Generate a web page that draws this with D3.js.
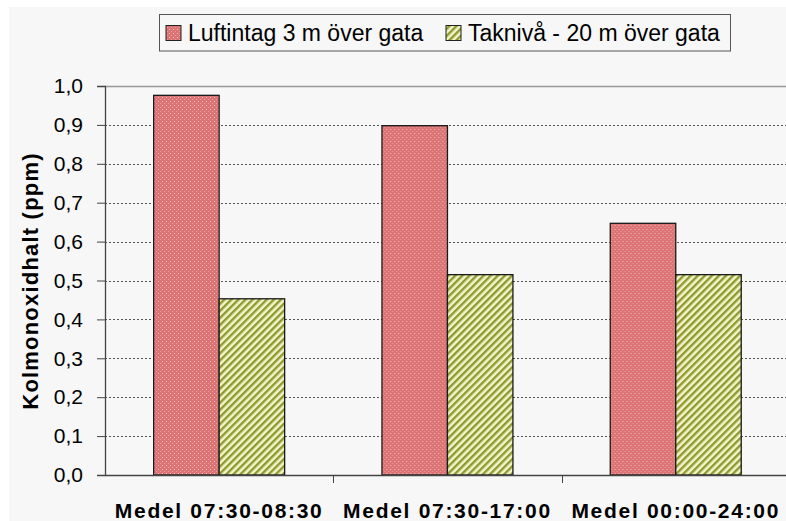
<!DOCTYPE html>
<html>
<head>
<meta charset="utf-8">
<script src="https://cdnjs.cloudflare.com/ajax/libs/d3/7.8.5/d3.min.js"></script>
<style>
  body { margin: 0; background: #ffffff; }
  svg { display: block; font-family: "Liberation Sans", Arial, sans-serif; }
</style>
</head>
<body>
<div id="chart"></div>
<script>
// data
var categories = ["Medel 07:30-08:30", "Medel 07:30-17:00", "Medel 00:00-24:00"];
var seriesNames = ["Luftintag 3 m över gata", "Takniv\u00e5 - 20 m över gata"];
var luftintag = [0.976, 0.898, 0.647];
var takniva = [0.453, 0.515, 0.515];
var yTicks = [0, 0.1, 0.2, 0.3, 0.4, 0.5, 0.6, 0.7, 0.8, 0.9, 1.0];

var width = 786, height = 521;
var plotLeft = 105, plotTop = 86, plotBottom = 475;
var bandW = 228.3;

var svg = d3.select("#chart").append("svg")
  .attr("width", width)
  .attr("height", height);

var defs = svg.append("defs");

// dotted red fill
var dots = defs.append("pattern")
  .attr("id", "dots")
  .attr("patternUnits", "userSpaceOnUse")
  .attr("width", 4).attr("height", 4);
dots.append("rect").attr("width", 4).attr("height", 4).attr("fill", "#dc7476");
dots.append("rect").attr("x", 1).attr("y", 1).attr("width", 1).attr("height", 1).attr("fill", "#f3c0c0");
dots.append("rect").attr("x", 3).attr("y", 3).attr("width", 1).attr("height", 1).attr("fill", "#e89c9c");

// diagonal hatch fill
var hatch = defs.append("pattern")
  .attr("id", "hatch")
  .attr("patternUnits", "userSpaceOnUse")
  .attr("width", 5).attr("height", 5)
  .attr("patternTransform", "rotate(45)");
hatch.append("rect").attr("width", 5).attr("height", 5).attr("fill", "#f4f4c8");
hatch.append("rect").attr("width", 2.4).attr("height", 5).attr("fill", "#8c9a32");

// background
svg.append("rect")
  .attr("x", 9).attr("y", 7)
  .attr("width", width - 9).attr("height", height - 7)
  .attr("fill", "#f7f7f7");

var x0 = d3.scaleBand()
  .domain(categories)
  .range([plotLeft, plotLeft + bandW * categories.length])
  .paddingInner(0).paddingOuter(0);

// two bars of ~65.5px centred in each 228px band
var x1 = d3.scaleBand()
  .domain([0, 1])
  .range([0, bandW])
  .paddingInner(0)
  .paddingOuter(0.743);

var y = d3.scaleLinear()
  .domain([0, 1])
  .range([plotBottom, plotTop]);

// grid lines
svg.append("g")
  .selectAll("line")
  .data(yTicks.filter(function(d) { return d > 0 && d < 1; }))
  .enter().append("line")
  .attr("x1", plotLeft).attr("x2", width)
  .attr("y1", function(d) { return Math.round(y(d)) + 0.5; })
  .attr("y2", function(d) { return Math.round(y(d)) + 0.5; })
  .attr("stroke", "#555")
  .attr("stroke-width", 1)
  .attr("stroke-dasharray", "2,2");

// top border of plot area
svg.append("line")
  .attr("x1", plotLeft).attr("x2", width)
  .attr("y1", Math.round(y(1)) + 0.5).attr("y2", Math.round(y(1)) + 0.5)
  .attr("stroke", "#999").attr("stroke-width", 1.5);

// bars
var groups = svg.append("g").selectAll("g")
  .data(categories)
  .enter().append("g")
  .attr("transform", function(d) { return "translate(" + x0(d) + ",0)"; });

groups.selectAll("rect")
  .data(function(d, i) {
    return [{s: 0, v: luftintag[i]}, {s: 1, v: takniva[i]}];
  })
  .enter().append("rect")
  .attr("x", function(d) { return x1(d.s); })
  .attr("width", x1.bandwidth())
  .attr("y", function(d) { return y(d.v); })
  .attr("height", function(d) { return y(0) - y(d.v); })
  .attr("fill", function(d) { return d.s === 0 ? "url(#dots)" : "url(#hatch)"; })
  .attr("stroke", "#1a1a1a")
  .attr("stroke-width", 1.3);

// y axis
var yAxis = d3.axisLeft(y)
  .tickValues(yTicks)
  .tickSize(8)
  .tickPadding(14)
  .tickFormat(function(d) { return d3.format(".1f")(d).replace(".", ","); });

var yg = svg.append("g")
  .attr("transform", "translate(" + plotLeft + ",0)")
  .call(yAxis);
yg.select(".domain").attr("stroke", "#444").attr("stroke-width", 1.3);
yg.selectAll(".tick line").attr("stroke", "#444");
yg.selectAll(".tick text")
  .attr("font-size", "21px")
  .attr("font-family", "Liberation Sans, Arial, sans-serif")
  .attr("fill", "#000");

// x axis
var xAxis = d3.axisBottom(x0)
  .tickSize(0)
  .tickPadding(28);

var xg = svg.append("g")
  .attr("transform", "translate(0," + plotBottom + ")")
  .call(xAxis);
xg.select(".domain").attr("stroke", "#444").attr("stroke-width", 1.3);
xg.selectAll(".tick text")
  .attr("font-size", "21px")
  .attr("font-weight", "bold")
  .attr("letter-spacing", "1.7px")
  .attr("font-family", "Liberation Sans, Arial, sans-serif")
  .attr("fill", "#000");

// category separator ticks
svg.append("g").selectAll("line")
  .data(categories.slice(1))
  .enter().append("line")
  .attr("x1", function(d) { return Math.round(x0(d)) + 0.5; })
  .attr("x2", function(d) { return Math.round(x0(d)) + 0.5; })
  .attr("y1", plotBottom).attr("y2", plotBottom + 8)
  .attr("stroke", "#444");

// y axis title
svg.append("text")
  .attr("transform", "translate(38,281) rotate(-90)")
  .attr("text-anchor", "middle")
  .attr("font-size", "22px")
  .attr("font-weight", "bold")
  .attr("letter-spacing", "1.2px")
  .text("Kolmonoxidhalt (ppm)");

// legend
var legend = svg.append("g");
legend.append("rect")
  .attr("x", 159.5).attr("y", 14.5)
  .attr("width", 571).attr("height", 36.5)
  .attr("fill", "#f7f7f7")
  .attr("stroke", "#555");

var legItems = [
  {name: seriesNames[0], fill: "url(#dots)", x: 166},
  {name: seriesNames[1], fill: "url(#hatch)", x: 446}
];
legItems.forEach(function(it) {
  legend.append("rect")
    .attr("x", it.x).attr("y", 25.5)
    .attr("width", 15).attr("height", 15)
    .attr("fill", it.fill)
    .attr("stroke", "#222");
  legend.append("text")
    .attr("x", it.x + 22).attr("y", 41)
    .attr("font-size", "23px")
    .text(it.name);
});
</script>
</body>
</html>
